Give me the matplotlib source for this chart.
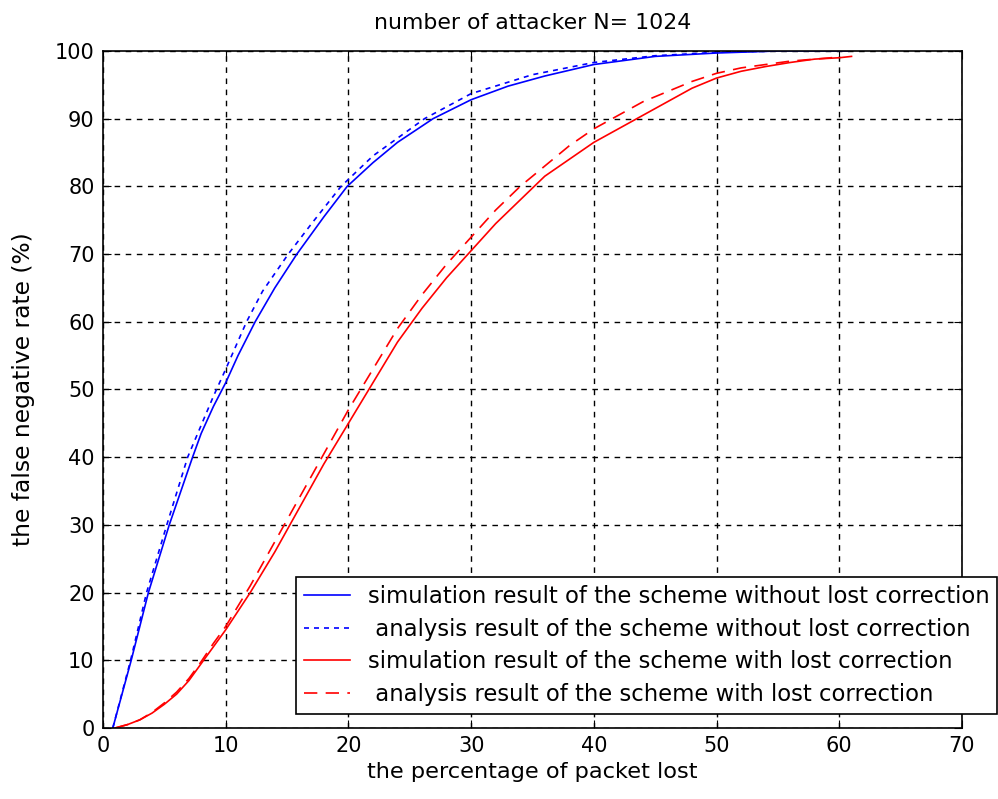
import numpy as np
import matplotlib
matplotlib.use('Agg')
import matplotlib.pyplot as plt

# blue: scheme without lost correction
sim_nc_x = [0.8, 2.3, 3.7, 5.4, 7.3, 8, 9, 10, 11, 12.4, 14, 15.8, 18, 19.9, 22, 24, 26.9,
            30, 33, 36, 40, 45, 50, 55, 60.8]
sim_nc_y = [0, 10, 20, 30, 40, 43.5, 47.5, 51, 55, 60, 65, 70, 75.5, 80, 83.5, 86.5, 90,
            92.8, 94.8, 96.3, 98, 99.2, 99.7, 100, 100]
ana_nc_x = [0.8, 2.25, 3.55, 5.2, 6.9, 9, 10, 11.7, 13, 15.1, 17, 19.4, 22, 26.2, 30, 35,
            40, 45, 50, 55]
ana_nc_y = [0, 10, 20, 30, 40, 49, 53, 60, 64.5, 70, 74.5, 80, 84.5, 90, 93.7, 96.5,
            98.3, 99.3, 99.8, 100]

# red: scheme with lost correction
sim_c_x = [1, 2, 3, 4, 5, 6, 7, 8, 9, 10, 12, 14, 16, 18, 20, 22, 24, 26, 28, 30, 32, 34,
           36, 38, 40, 42, 44, 46, 48, 50, 52, 54, 56, 58, 60, 61]
sim_c_y = [0, 0.5, 1.2, 2.2, 3.5, 5, 7, 9.5, 12, 14.5, 20, 26, 32.5, 39, 45, 51, 57, 62,
           66.5, 70.5, 74.5, 78, 81.5, 84, 86.5, 88.5, 90.5, 92.5, 94.5, 96, 97, 97.7,
           98.3, 98.8, 99, 99.2]
ana_c_x = [1, 2, 3, 4, 5, 6, 7, 8, 9, 10, 12, 14, 16, 18, 20, 22, 24, 26, 28, 30, 32, 34,
           36, 38, 40, 42, 44, 46, 48, 50, 52, 54, 56, 58, 60]
ana_c_y = [0, 0.5, 1.2, 2.3, 3.7, 5.3, 7.3, 9.8, 12.5, 15, 21, 27.5, 34, 40.5, 47, 53, 59,
           64, 68.5, 72.5, 76.5, 80, 83, 86, 88.5, 90.5, 92.5, 94, 95.5, 96.7, 97.5, 98,
           98.5, 98.8, 99.1]

labels = ['simulation result of the scheme without lost correction',
          ' analysis result of the scheme without lost correction',
          'simulation result of the scheme with lost correction',
          ' analysis result of the scheme with lost correction']

plt.rcParams['font.family'] = ['DejaVu Sans']

fig = plt.figure(figsize=(9.98, 7.99), dpi=100)
ax = fig.add_axes([0.1032, 0.0889, 0.8607, 0.8473])

ax.plot(sim_nc_x, sim_nc_y, color='blue', lw=1.2, label=labels[0])
ax.plot(ana_nc_x, ana_nc_y, color='blue', lw=1.2, ls=(0, (3, 3)), label=labels[1])
ax.plot(sim_c_x, sim_c_y, color='red', lw=1.2, label=labels[2])
ax.plot(ana_c_x, ana_c_y, color='red', lw=1.2, ls=(0, (8, 5)), label=labels[3])

ax.set_xlim(0, 70)
ax.set_ylim(0, 100)
ax.set_xticks(np.arange(0, 71, 10))
ax.set_yticks(np.arange(0, 101, 10))
ax.grid(True, color='black', ls=(0, (4, 4)), lw=1)
ax.tick_params(direction='in', top=True, right=True, length=6, labelsize=15, pad=6)
for s in ax.spines.values():
    s.set_linewidth(1.2)

ax.set_title('number of attacker N= 1024', fontsize=15.8, pad=16)
ax.set_xlabel('the percentage of packet lost', fontsize=16.2, labelpad=4)
ax.set_ylabel('the false negative rate (%)', fontsize=16.8, labelpad=14)

leg = ax.legend(loc='upper left', bbox_to_anchor=(296 / 998, 1 - 577 / 799),
                bbox_transform=fig.transFigure, fontsize=16.4, fancybox=False,
                framealpha=1, edgecolor='black', borderpad=0.35, labelspacing=0.42,
                handlelength=2.0, handletextpad=0.8, borderaxespad=0)
leg.get_frame().set_linewidth(1.2)

fig.savefig('out.png', dpi=100)
